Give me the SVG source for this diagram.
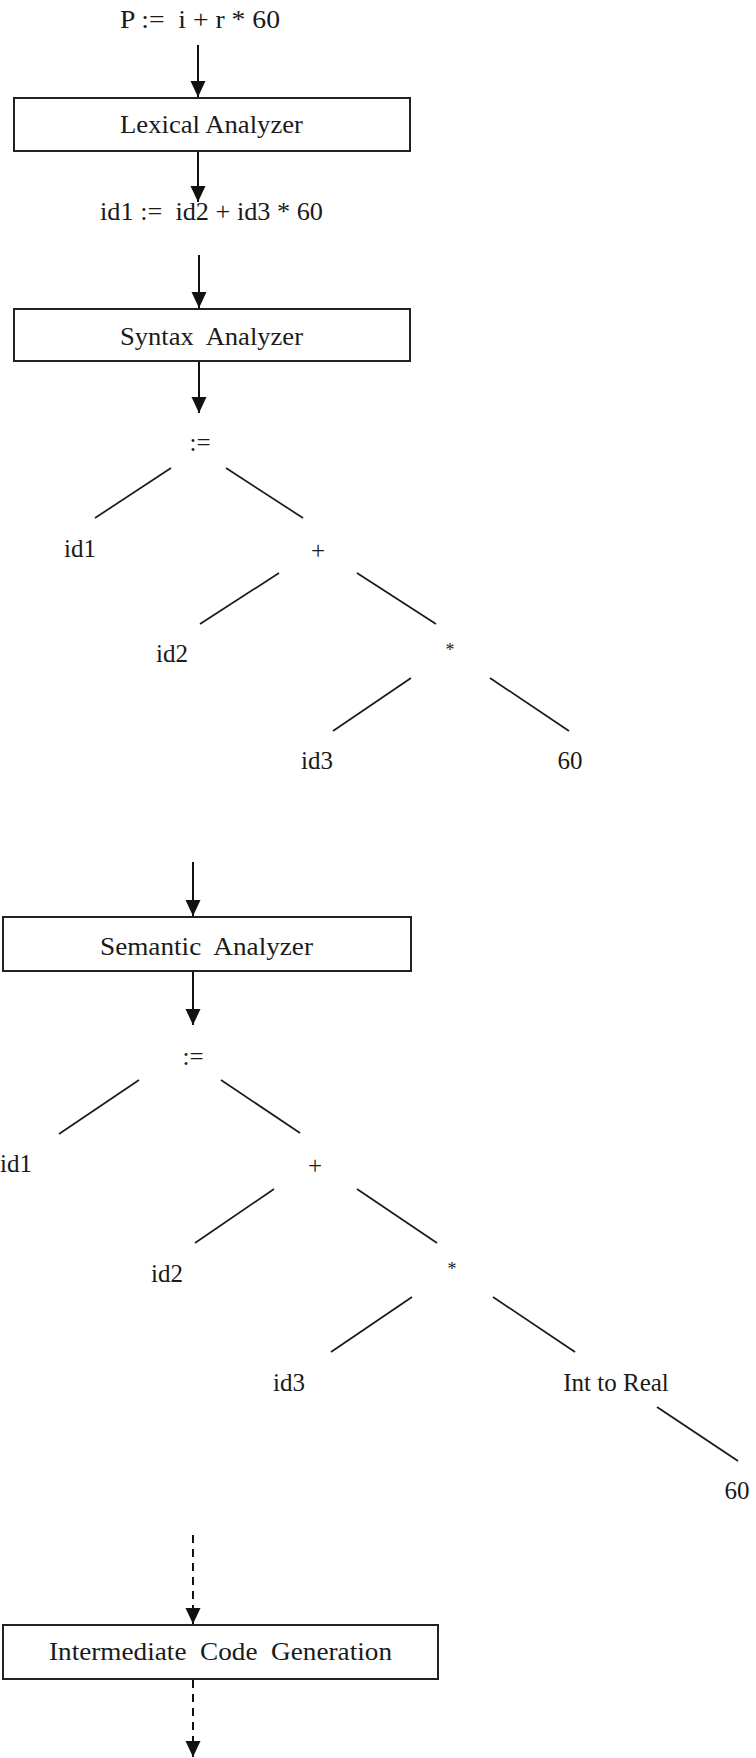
<svg xmlns="http://www.w3.org/2000/svg" width="756" height="1758" viewBox="0 0 756 1758">
<style>
  text { font-family: "Liberation Serif", "Times New Roman", serif; font-size: 25px; fill: #1a1a1a; white-space: pre; }
  .c { text-anchor: middle; }
  .box { fill: #ffffff; stroke: #222; stroke-width: 2; }
  .edge { stroke: #1a1a1a; stroke-width: 1.7; fill: none; }
  .arrow { stroke: #111; stroke-width: 2; fill: none; marker-end: url(#ah); }
  .dash { stroke: #111; stroke-width: 2; fill: none; stroke-dasharray: 8 6; marker-end: url(#ah); }
  .star { font-size: 18px; }
</style>
<defs>
  <marker id="ah" markerUnits="userSpaceOnUse" markerWidth="16" markerHeight="18" refX="17" refY="8" orient="auto" viewBox="0 0 17 16">
    <path d="M0,0 L17,8 L0,16 z" fill="#111"/>
  </marker>
</defs>
<rect width="756" height="1758" fill="#ffffff"/>

<g id="connectors">
  <line class="arrow" x1="198" y1="45" x2="198" y2="97"/>
  <line class="arrow" x1="198" y1="151" x2="198" y2="202"/>
  <line class="arrow" x1="199" y1="255" x2="199" y2="308"/>
  <line class="arrow" x1="199" y1="361" x2="199" y2="413"/>
  <line class="arrow" x1="193" y1="862" x2="193" y2="916"/>
  <line class="arrow" x1="193" y1="972" x2="193" y2="1025"/>
  <line class="dash" x1="193" y1="1535" x2="193" y2="1624"/>
  <line class="dash" x1="193" y1="1680" x2="193" y2="1757"/>
  <!-- tree 1 -->
  <line class="edge" x1="171" y1="468" x2="95" y2="518"/>
  <line class="edge" x1="226" y1="468" x2="303" y2="518"/>
  <line class="edge" x1="279" y1="573" x2="200" y2="624"/>
  <line class="edge" x1="357" y1="573" x2="436" y2="624"/>
  <line class="edge" x1="411" y1="678" x2="333" y2="731"/>
  <line class="edge" x1="490" y1="678" x2="569" y2="731"/>
  <!-- tree 2 -->
  <line class="edge" x1="139" y1="1080" x2="59" y2="1134"/>
  <line class="edge" x1="221" y1="1080" x2="300" y2="1133"/>
  <line class="edge" x1="274" y1="1189" x2="195" y2="1243"/>
  <line class="edge" x1="357" y1="1189" x2="437" y2="1243"/>
  <line class="edge" x1="412" y1="1297" x2="331" y2="1352"/>
  <line class="edge" x1="493" y1="1297" x2="575" y2="1352"/>
  <line class="edge" x1="657" y1="1407" x2="738" y2="1461"/>
</g>

<g id="source"><text class="c" x="200" y="28" textLength="160" lengthAdjust="spacingAndGlyphs">P :=  i + r * 60</text></g>
<g id="lexical-analyzer">
  <rect class="box" x="14" y="98" width="396" height="53"/>
  <text class="c" x="211.5" y="133" textLength="183" lengthAdjust="spacingAndGlyphs">Lexical Analyzer</text>
</g>
<g id="tokens"><text class="c" x="211.5" y="220" textLength="223" lengthAdjust="spacingAndGlyphs">id1 :=  id2 + id3 * 60</text></g>
<g id="syntax-analyzer">
  <rect class="box" x="14" y="309" width="396" height="52"/>
  <text class="c" x="211.5" y="345" textLength="183" lengthAdjust="spacingAndGlyphs">Syntax  Analyzer</text>
</g>

<g id="tree1-assign"><text class="c" x="200" y="451">:=</text></g>
<g id="tree1-id1"><text class="c" x="80" y="557">id1</text></g>
<g id="tree1-plus"><text class="c" x="318" y="559">+</text></g>
<g id="tree1-id2"><text class="c" x="172" y="662">id2</text></g>
<g id="tree1-mul"><text class="c star" x="450" y="656">*</text></g>
<g id="tree1-id3"><text class="c" x="317" y="769">id3</text></g>
<g id="tree1-60"><text class="c" x="570" y="769">60</text></g>

<g id="semantic-analyzer">
  <rect class="box" x="3" y="917" width="408" height="54"/>
  <text class="c" x="206.5" y="955" textLength="213" lengthAdjust="spacingAndGlyphs">Semantic  Analyzer</text>
</g>

<g id="tree2-assign"><text class="c" x="193" y="1065">:=</text></g>
<g id="tree2-id1"><text x="0" y="1172">id1</text></g>
<g id="tree2-plus"><text class="c" x="315" y="1174">+</text></g>
<g id="tree2-id2"><text class="c" x="167" y="1282">id2</text></g>
<g id="tree2-mul"><text class="c star" x="452" y="1275">*</text></g>
<g id="tree2-id3"><text class="c" x="289" y="1391">id3</text></g>
<g id="tree2-inttoreal"><text class="c" x="616" y="1391">Int to Real</text></g>
<g id="tree2-60"><text class="c" x="737" y="1499">60</text></g>

<g id="intermediate-code-generation">
  <rect class="box" x="3" y="1625" width="435" height="54"/>
  <text class="c" x="220.5" y="1660" textLength="343" lengthAdjust="spacingAndGlyphs">Intermediate  Code  Generation</text>
</g>
</svg>
